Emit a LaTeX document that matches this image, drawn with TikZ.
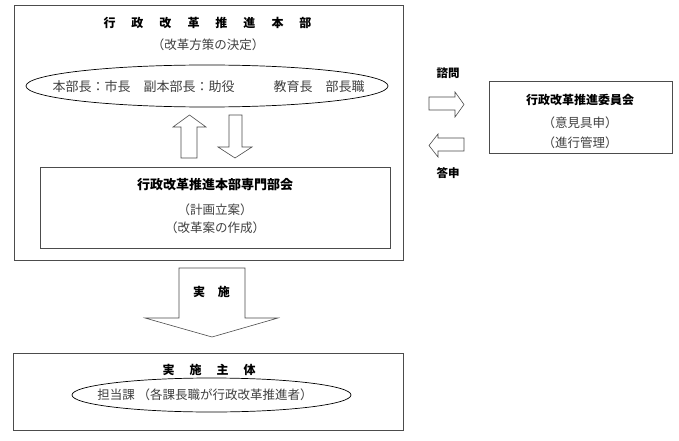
\documentclass[tikz,border=0pt]{standalone}
\usepackage{fontspec}
\setmainfont{Noto Sans CJK JP}
\newcommand\gp[1]{\hspace{#1}}
\tikzset{
  x=1pt, y=-1pt,
  frame/.style={draw=black!70, line width=0.9pt, inner sep=0pt},
  oval/.style={draw=black, line width=0.7pt, ellipse, inner sep=0pt},
  blockarrow/.style={draw=black!70, line width=0.6pt, fill=white, line join=miter},
  head/.style={font=\bfseries\fontsize{12}{14}\selectfont, inner sep=0pt},
  body/.style={font=\fontsize{12.5}{14}\selectfont, text=black!75, inner sep=0pt},
}
\usetikzlibrary{shapes.geometric}
\begin{document}
\begin{tikzpicture}
\useasboundingbox[fill=white] (0,0) rectangle (679,441);
% boxes
\node[frame, minimum width=389pt, minimum height=255pt] (outer) at (208.5,132.5) {};
\node[frame, minimum width=350pt, minimum height=81pt] (inner) at (215,207.5) {};
\node[frame, minimum width=183pt, minimum height=72pt] (iinkai) at (580.5,117) {};
\node[frame, minimum width=390pt, minimum height=77pt] (jisshi) at (208,391.5) {};
% ellipses
\node[oval, minimum width=362pt, minimum height=42pt] (oval1) at (207,86) {};
\node[oval, minimum width=279pt, minimum height=34pt] (oval2) at (211.5,395) {};
% texts top box
\node[head] (t1) at (207.5,23) {行\gp{16pt}政\gp{16pt}改\gp{16pt}革\gp{16pt}推\gp{16pt}進\gp{16pt}本\gp{16pt}部};
\node[body] (t2) at (208,45) {（改革方策の決定）};
\node[body, font=\fontsize{13}{15}\selectfont] (t3) at (208.5,87) {本部長：市長　副本部長：助役　　　教育長　部長職};
% inner box texts
\node[head, font=\bfseries\fontsize{13}{15}\selectfont] (t4) at (215,185) {行政改革推進本部専門部会};
\node[body] (t5) at (215,210) {（計画立案）};
\node[body] (t6) at (215,228) {（改革案の作成）};
% committee
\node[head] (t7) at (580,100) {行政改革推進委員会};
\node[body] (t8) at (580,123) {（意見具申）};
\node[body] (t9) at (580,143) {（進行管理）};
\node[head, font=\bfseries\fontsize{11.5}{13}\selectfont] (l1) at (448,73) {諮問};
\node[head, font=\bfseries\fontsize{11.5}{13}\selectfont] (l2) at (448,173) {答申};
% bottom
\node[head] (t10) at (209,370) {実\gp{15pt}施\gp{15pt}主\gp{15pt}体};
\node[body] (t11) at (205,395) {担当課 （各課長職が行政改革推進者）};
% block arrows
\draw[blockarrow] (181,158) -- (181,127) -- (173,127) -- (189.5,115) -- (206,127) -- (197,127) -- (197,158) -- cycle;
\draw[blockarrow] (229,115) -- (242,115) -- (242,147) -- (252,147) -- (235,158) -- (218,147) -- (229,147) -- cycle;
\draw[blockarrow] (429,97) -- (455,97) -- (455,92) -- (464,104.5) -- (455,117) -- (455,110) -- (429,110) -- cycle;
\draw[blockarrow] (464,138) -- (438,138) -- (438,134) -- (429,145.5) -- (438,157) -- (438,151) -- (464,151) -- cycle;
\draw[blockarrow] (179,268) -- (245,268) -- (245,318) -- (278,318) -- (212,337) -- (145,318) -- (179,318) -- cycle;
\node[head] (t12) at (211.5,292) {実\gp{13pt}施};
\end{tikzpicture}
\end{document}
